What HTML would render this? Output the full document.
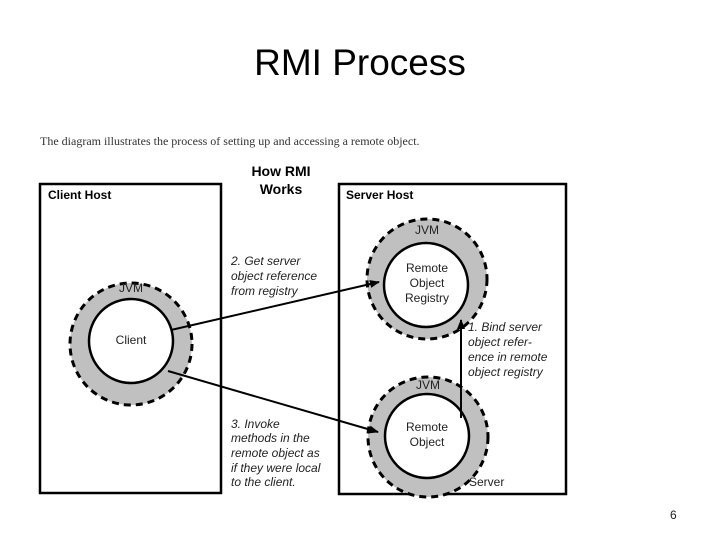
<!DOCTYPE html>
<html><head><meta charset="utf-8"><style>
html,body{margin:0;padding:0;background:#fff;}
svg{display:block;}
</style></head><body>
<svg width="720" height="540" viewBox="0 0 720 540" xmlns="http://www.w3.org/2000/svg" font-family="Liberation Sans, sans-serif">
<defs><marker id="a" markerWidth="10" markerHeight="8" refX="9" refY="4" orient="auto" markerUnits="userSpaceOnUse"><path d="M0,0 L10,4 L0,8 z" fill="#000"/></marker></defs>
<text x="360" y="75" font-size="37" text-anchor="middle" font-family="Liberation Sans, sans-serif">RMI Process</text>
<text x="40" y="145" font-size="12" font-family="Liberation Serif, serif" fill="#333">The diagram illustrates the process of setting up and accessing a remote object.</text>
<text x="281" y="176" font-size="14" font-weight="bold" text-anchor="middle">How RMI</text>
<text x="281" y="194" font-size="14" font-weight="bold" text-anchor="middle">Works</text>
<rect x="40" y="184" width="181" height="309" fill="none" stroke="#000" stroke-width="2.5"/>
<rect x="339" y="184" width="227" height="310" fill="none" stroke="#000" stroke-width="2.5"/>
<text x="48" y="199" font-size="12" font-weight="bold">Client Host</text>
<text x="346" y="199" font-size="12" font-weight="bold">Server Host</text>
<g fill="#c0c0c0" stroke="#000" stroke-width="3" stroke-dasharray="7,5">
<circle cx="131" cy="344" r="61"/>
<circle cx="427" cy="279" r="60"/>
<circle cx="428" cy="437" r="60"/>
</g>
<g fill="#fff" stroke="#000" stroke-width="2.5">
<circle cx="131" cy="341" r="42"/>
<circle cx="426" cy="285" r="42"/>
<circle cx="427" cy="436" r="42"/>
</g>
<g font-size="12" text-anchor="middle" fill="#222">
<text x="131" y="292">JVM</text>
<text x="131" y="344">Client</text>
<text x="427" y="234">JVM</text>
<text x="427" y="272">Remote</text>
<text x="427" y="287">Object</text>
<text x="427" y="302">Registry</text>
<text x="428" y="389">JVM</text>
<text x="427" y="431">Remote</text>
<text x="427" y="446">Object</text>
</g>
<text x="469" y="486" font-size="12" fill="#222">Server</text>
<g stroke="#000" stroke-width="2" fill="none" marker-end="url(#a)">
<line x1="171" y1="330" x2="379" y2="282"/>
<line x1="168" y1="371" x2="378" y2="432"/>
<line x1="461" y1="418" x2="461" y2="320"/>
</g>
<g font-size="12" font-style="italic" fill="#222">
<text x="231" y="265">2. Get server</text>
<text x="231" y="280">object reference</text>
<text x="231" y="295">from registry</text>
<text x="468" y="331">1. Bind server</text>
<text x="468" y="346">object refer-</text>
<text x="468" y="361">ence in remote</text>
<text x="468" y="376">object registry</text>
<text x="231" y="428">3. Invoke</text>
<text x="231" y="442">methods in the</text>
<text x="231" y="457">remote object as</text>
<text x="231" y="472">if they were local</text>
<text x="231" y="486">to the client.</text>
</g>
<text x="670" y="519" font-size="12" fill="#222">6</text>
</svg>
</body></html>
